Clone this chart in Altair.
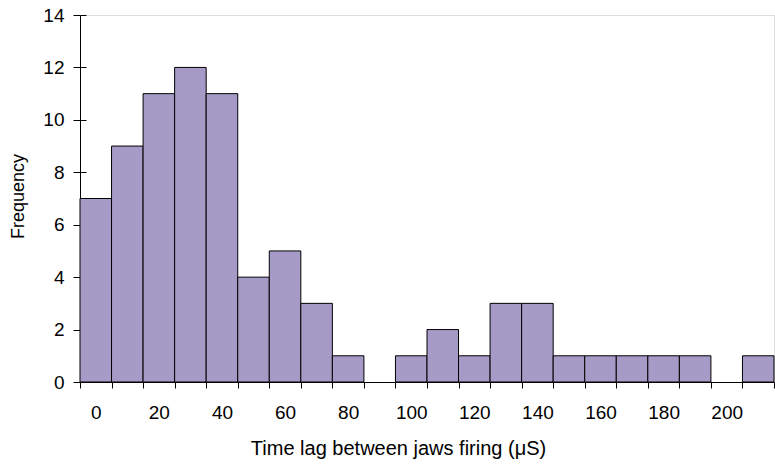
import altair as alt
import pandas as pd

centers = [0, 10, 20, 30, 40, 50, 60, 70, 80, 90, 100, 110, 120, 130, 140, 150, 160, 170, 180, 190, 200, 210]
counts = [7, 9, 11, 12, 11, 4, 5, 3, 1, 0, 1, 2, 1, 3, 3, 1, 1, 1, 1, 1, 0, 1]
label_values = [0, 20, 40, 60, 80, 100, 120, 140, 160, 180, 200]
y_ticks = [0, 2, 4, 6, 8, 10, 12, 14]
bin_width = 10

df = pd.DataFrame({"center": centers, "count": counts})
df["start"] = df["center"] - bin_width / 2
df["end"] = df["center"] + bin_width / 2
edges = sorted(set(df["start"].tolist() + df["end"].tolist()))
bars_df = df[df["count"] > 0]

font = "Liberation Sans"
W, H = 694, 367
xscale = alt.Scale(domain=[-5, 215], nice=False, zero=False)
yscale = alt.Scale(domain=[0, 14], nice=False)

bars = alt.Chart(bars_df).mark_bar(color="#A69BC6", stroke="black", strokeWidth=1).encode(
    x=alt.X("start:Q", scale=xscale,
            axis=alt.Axis(orient="bottom", values=label_values, tickSize=0, domain=False,
                          grid=False, labelPadding=21, labelFontSize=19, labelFont=font,
                          labelColor="black", title="Time lag between jaws firing (μS)",
                          titleFont=font, titleFontSize=20, titleFontWeight="normal",
                          titleColor="black", titlePadding=16, titleX=318)),
    x2="end:Q",
    y=alt.Y("count:Q", scale=yscale,
            axis=alt.Axis(values=y_ticks, tickSize=7, tickColor="black",
                          domainColor="black", grid=False, labelPadding=9, labelFontSize=19,
                          labelFont=font, labelColor="black", title="Frequency",
                          titleFont=font, titleFontSize=18, titleFontWeight="normal",
                          titleColor="black", titlePadding=15, titleY=181)),
    y2=alt.datum(0),
)

ticks = alt.Chart(df).mark_bar(opacity=0).encode(
    x=alt.X("start:Q", scale=xscale,
            axis=alt.Axis(orient="bottom", values=edges, labels=False, tickSize=6,
                          tickColor="black", domainColor="black", grid=False, title=None)),
    x2="end:Q",
    y=alt.Y("count:Q", scale=yscale,
            axis=alt.Axis(orient="right", offset=-W, values=y_ticks, labels=False,
                          domain=False, tickSize=6, tickColor="black", grid=False, title=None)),
    y2=alt.datum(0),
)

chart = alt.layer(bars, ticks).resolve_axis(x="independent", y="independent").properties(
    width=W, height=H,
    autosize=alt.AutoSizeParams(type="none"),
    padding={"left": 80, "top": 15, "right": 1, "bottom": 83},
).configure_view(stroke=None).configure(background="white")

chart.save("out.html", embed_options={"renderer": "svg", "actions": False})
